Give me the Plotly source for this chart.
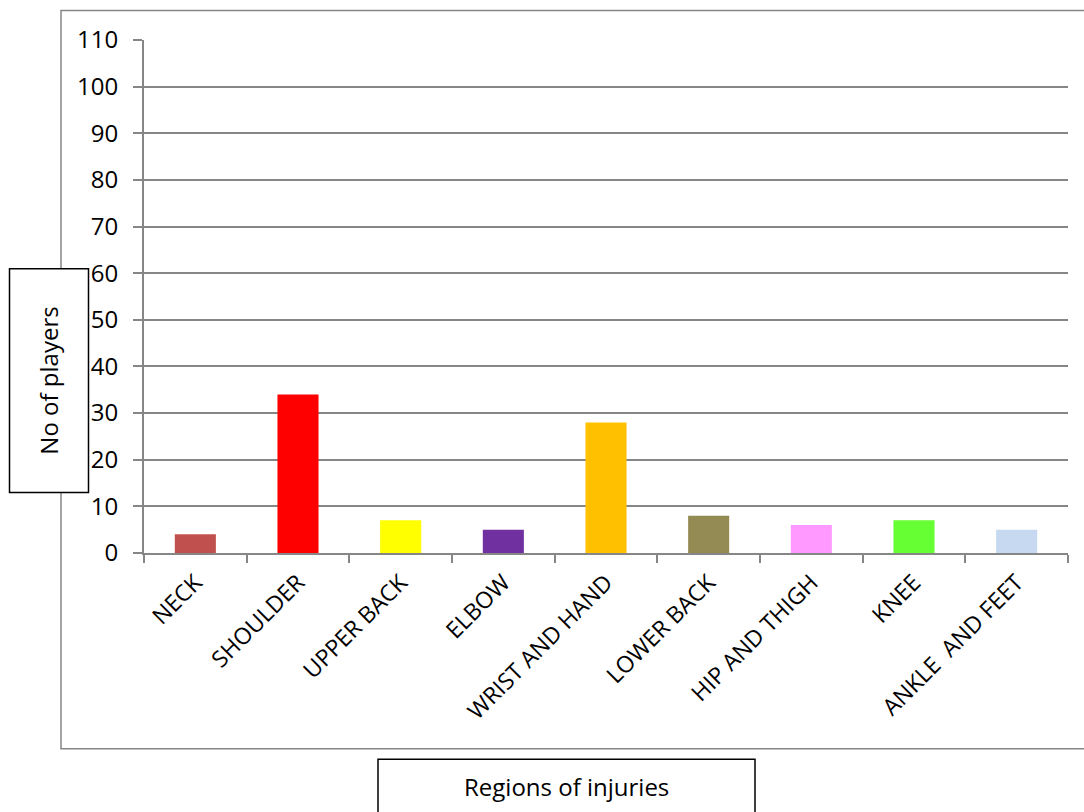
import plotly.graph_objects as go

categories = ["NECK", "SHOULDER", "UPPER BACK", "ELBOW", "WRIST AND HAND",
              "LOWER BACK", "HIP AND THIGH", "KNEE", "ANKLE\u00a0 AND FEET"]
players = [4, 34, 7, 5, 28, 8, 6, 7, 5]
bar_colors = ["#C0504D", "#FF0000", "#FFFF00", "#7030A0", "#FFC000",
              "#948A54", "#FF99FF", "#66FF33", "#C6D9F1"]
y_title = "No of players"
x_title = "Regions of injuries"

W, H = 1084, 812
L, R, T, B = 144, 16, 39.5, 259
pw, ph = W - L - R, H - T - B

def px(x):
    return (x - L) / pw

def py(y):
    return (H - B - y) / ph

GRAY = "#868686"
FONT = "Open Sans"

fig = go.Figure(go.Bar(x=categories, y=players, marker_color=bar_colors,
                       marker_line_width=0, showlegend=False))

fig.update_layout(
    width=W, height=H,
    margin=dict(l=L, r=R, t=T, b=B),
    paper_bgcolor="white", plot_bgcolor="white",
    bargap=0.6,
    font=dict(family=FONT, size=24, color="black"),
    xaxis=dict(type="category", tickangle=-45, showline=True, linecolor=GRAY,
               linewidth=2, ticks="outside", tickson="boundaries", ticklen=8,
               tickcolor=GRAY, tickwidth=2, showgrid=False,
               ticklabelstandoff=5,
               tickfont=dict(family=FONT, size=23, color="black")),
    yaxis=dict(range=[0, 110], dtick=10, showline=True, linecolor=GRAY,
               linewidth=2, ticks="outside", ticklen=9, tickcolor=GRAY,
               tickwidth=2, showgrid=True, gridcolor=GRAY, gridwidth=1.5,
               zeroline=False, ticklabelstandoff=10,
               tickfont=dict(family=FONT, size=24, color="black")),
)

shapes = [
    # outer chart border
    dict(type="rect", xref="paper", yref="paper",
         x0=px(61), x1=px(1095), y0=py(749), y1=py(10),
         line=dict(color=GRAY, width=1.5), layer="below"),
    # y title box
    dict(type="rect", xref="paper", yref="paper",
         x0=px(9.5), x1=px(88.5), y0=py(492.5), y1=py(268.5),
         line=dict(color="black", width=1.5), fillcolor="white", layer="above"),
    # x title box
    dict(type="rect", xref="paper", yref="paper",
         x0=px(378), x1=px(755), y0=py(830), y1=py(759.5),
         line=dict(color="black", width=1.5), fillcolor="white", layer="above"),
]
fig.update_layout(shapes=shapes)

fig.add_annotation(text=y_title, xref="paper", yref="paper",
                   x=px(49), y=py(380.5), showarrow=False, textangle=-90,
                   font=dict(family=FONT, size=24, color="black"),
                   xanchor="center", yanchor="middle")
fig.add_annotation(text=x_title, xref="paper", yref="paper",
                   x=px(566.5), y=py(787), showarrow=False,
                   font=dict(family=FONT, size=24, color="black"),
                   xanchor="center", yanchor="middle")

fig.write_html("out.html")
